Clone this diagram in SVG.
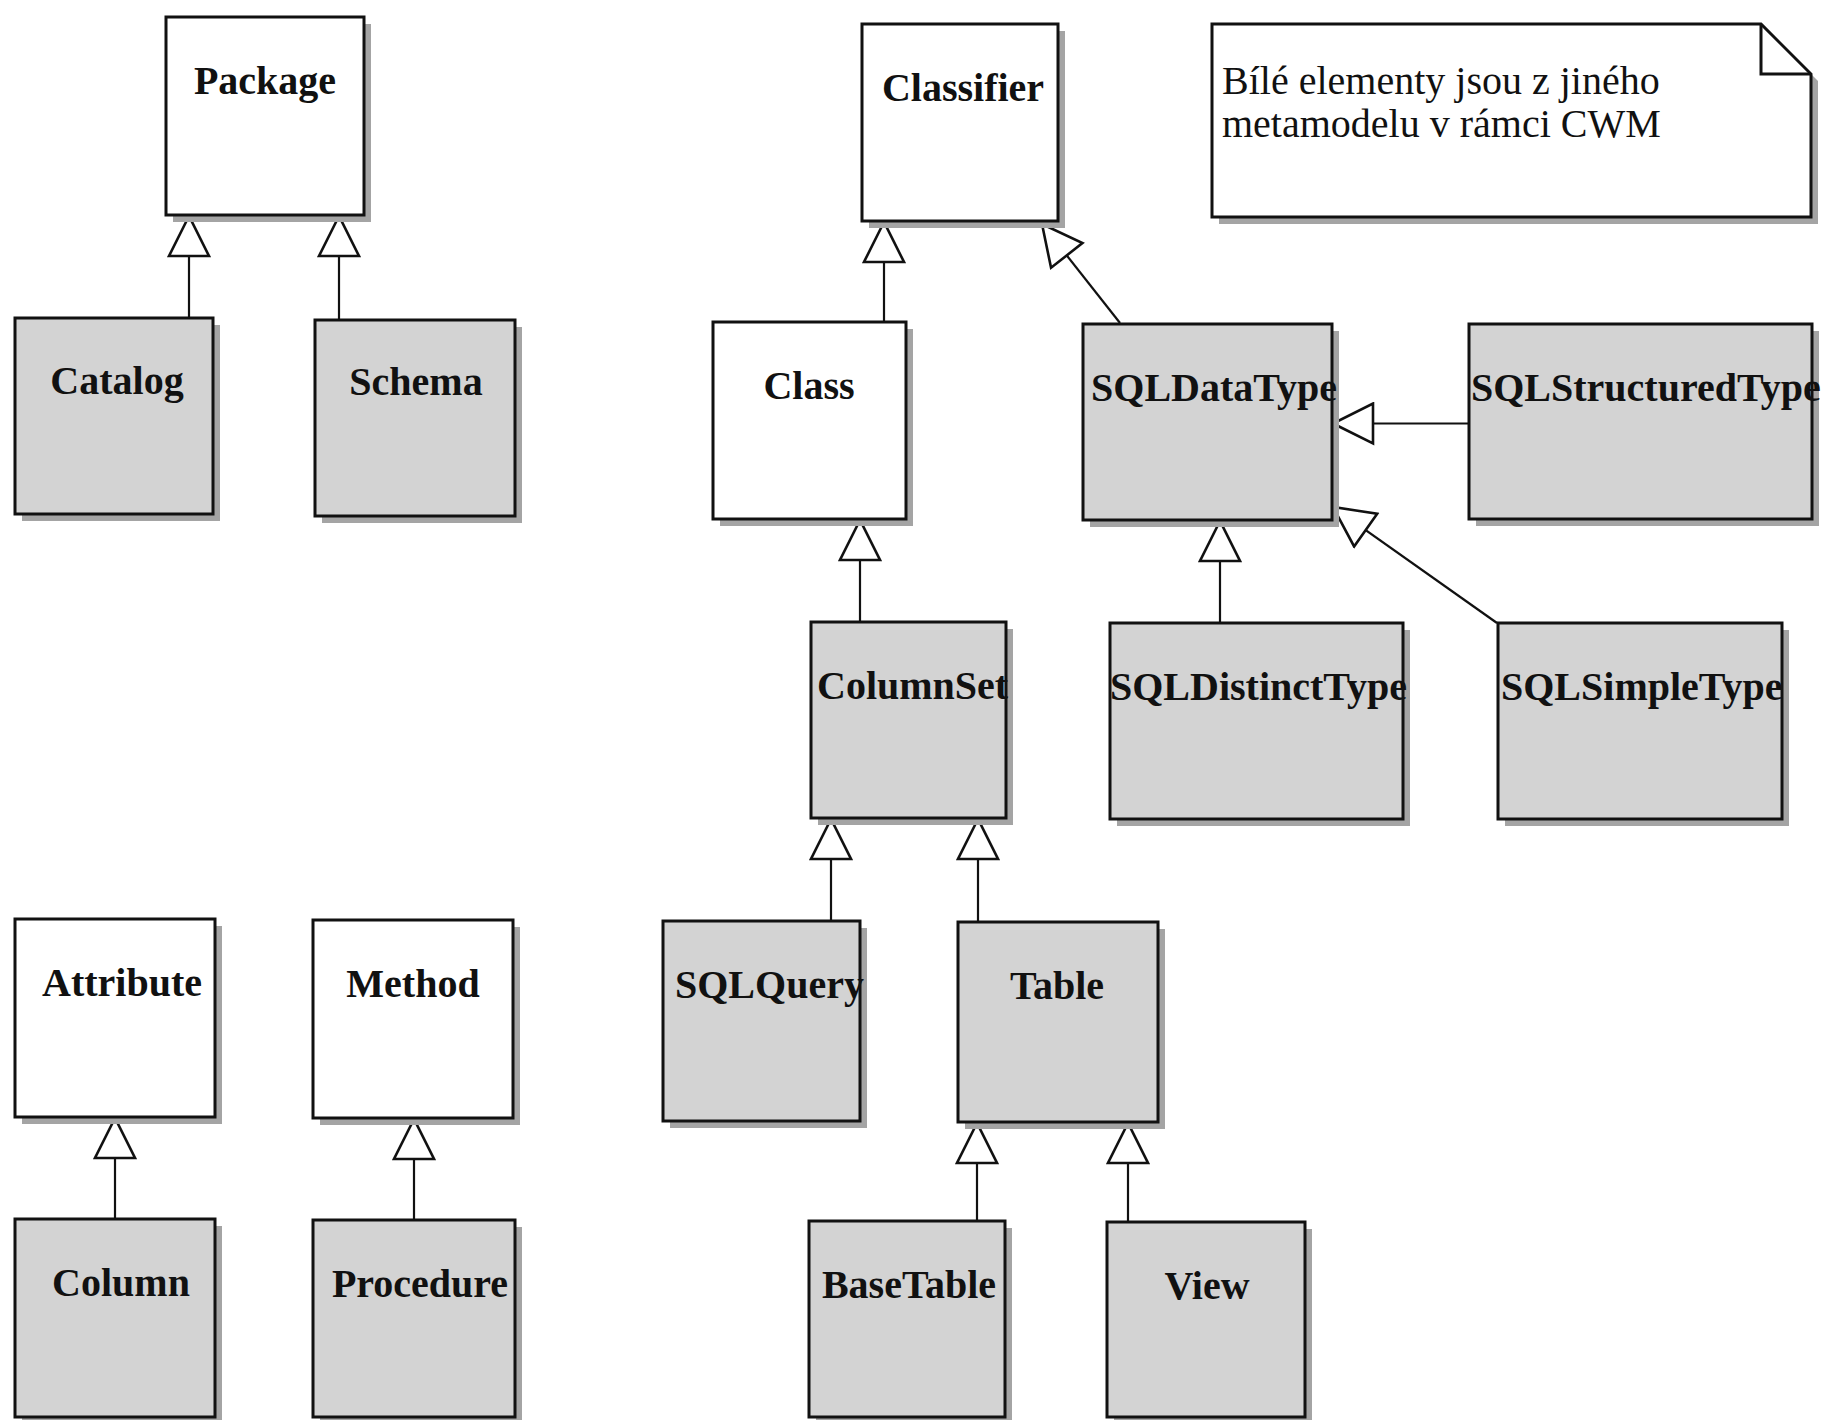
<svg xmlns="http://www.w3.org/2000/svg" width="1833" height="1420" viewBox="0 0 1833 1420">
<style>
.sh{fill:#a4a4a4}
.box{stroke:#111;stroke-width:3}
.w{fill:#fff}
.g{fill:#d3d3d3}
.t{font-family:"Liberation Serif","Times New Roman",serif;font-weight:bold;font-size:40px;fill:#111}
.n{font-family:"Liberation Serif","Times New Roman",serif;font-size:40px;fill:#111}
.c{text-anchor:middle}
.conn{stroke:#111;stroke-width:2.2;fill:none;marker-end:url(#gen)}
</style>
<defs>
<marker id="gen" markerUnits="userSpaceOnUse" viewBox="0 0 46 44" markerWidth="46" markerHeight="44" refX="43" refY="22" orient="auto">
<path d="M43 22 L3 2 L3 42 Z" fill="#fff" stroke="#111" stroke-width="2.6" stroke-linejoin="miter"/>
</marker>
</defs>
<rect width="1833" height="1420" fill="#fff"/>

<g id="connectors">
<line class="conn" x1="189" y1="318" x2="189" y2="216"/>
<line class="conn" x1="339" y1="320" x2="339" y2="216"/>
<line class="conn" x1="884" y1="322" x2="884" y2="222"/>
<line class="conn" x1="1120" y1="323" x2="1042" y2="224"/>
<line class="conn" x1="1469" y1="423.5" x2="1333" y2="423.5"/>
<line class="conn" x1="860" y1="622" x2="860" y2="520"/>
<line class="conn" x1="1220" y1="623" x2="1220" y2="521"/>
<line class="conn" x1="1497" y1="623" x2="1333" y2="507"/>
<line class="conn" x1="831" y1="921" x2="831" y2="819"/>
<line class="conn" x1="978" y1="922" x2="978" y2="819"/>
<line class="conn" x1="977" y1="1221" x2="977" y2="1123"/>
<line class="conn" x1="1128" y1="1222" x2="1128" y2="1123"/>
<line class="conn" x1="115" y1="1219" x2="115" y2="1118"/>
<line class="conn" x1="414" y1="1220" x2="414" y2="1119"/>
</g>

<g id="Package">
<rect class="sh" x="173" y="24" width="198" height="198"/>
<rect class="box w" x="166" y="17" width="198" height="198"/>
<text class="t c" x="265" y="94">Package</text>
</g>
<g id="Catalog">
<rect class="sh" x="22" y="325" width="198" height="196"/>
<rect class="box g" x="15" y="318" width="198" height="196"/>
<text class="t c" x="117" y="394">Catalog</text>
</g>
<g id="Schema">
<rect class="sh" x="322" y="327" width="200" height="196"/>
<rect class="box g" x="315" y="320" width="200" height="196"/>
<text class="t c" x="416" y="395">Schema</text>
</g>

<g id="Classifier">
<rect class="sh" x="869" y="31" width="196" height="197"/>
<rect class="box w" x="862" y="24" width="196" height="197"/>
<text class="t c" x="963" y="101">Classifier</text>
</g>
<g id="Note">
<path class="sh" d="M1219 31 H1768 L1818 81 V224 H1219 Z"/>
<path class="box w" d="M1212 24 H1761 L1811 74 V217 H1212 Z"/>
<path d="M1761 24 V74 H1811" fill="none" stroke="#111" stroke-width="3"/>
<text class="n" x="1222" y="94">Bílé elementy jsou z jiného</text>
<text class="n" x="1222" y="137">metamodelu v rámci CWM</text>
</g>
<g id="Class">
<rect class="sh" x="720" y="329" width="193" height="197"/>
<rect class="box w" x="713" y="322" width="193" height="197"/>
<text class="t c" x="809" y="399">Class</text>
</g>
<g id="SQLDataType">
<rect class="sh" x="1090" y="331" width="249" height="196"/>
<rect class="box g" x="1083" y="324" width="249" height="196"/>
<text class="t c" x="1214" y="401">SQLDataType</text>
</g>
<g id="SQLStructuredType">
<rect class="sh" x="1476" y="331" width="343" height="195"/>
<rect class="box g" x="1469" y="324" width="343" height="195"/>
<text class="t" x="1471" y="401">SQLStructuredType</text>
</g>
<g id="ColumnSet">
<rect class="sh" x="818" y="629" width="195" height="196"/>
<rect class="box g" x="811" y="622" width="195" height="196"/>
<text class="t" x="817" y="699">ColumnSet</text>
</g>
<g id="SQLDistinctType">
<rect class="sh" x="1117" y="630" width="293" height="196"/>
<rect class="box g" x="1110" y="623" width="293" height="196"/>
<text class="t" x="1110" y="700">SQLDistinctType</text>
</g>
<g id="SQLSimpleType">
<rect class="sh" x="1505" y="630" width="284" height="196"/>
<rect class="box g" x="1498" y="623" width="284" height="196"/>
<text class="t" x="1501" y="700">SQLSimpleType</text>
</g>

<g id="SQLQuery">
<rect class="sh" x="670" y="928" width="197" height="200"/>
<rect class="box g" x="663" y="921" width="197" height="200"/>
<text class="t" x="675" y="998">SQLQuery</text>
</g>
<g id="Table">
<rect class="sh" x="965" y="929" width="200" height="200"/>
<rect class="box g" x="958" y="922" width="200" height="200"/>
<text class="t c" x="1057" y="999">Table</text>
</g>
<g id="BaseTable">
<rect class="sh" x="816" y="1228" width="196" height="196"/>
<rect class="box g" x="809" y="1221" width="196" height="196"/>
<text class="t c" x="909" y="1298">BaseTable</text>
</g>
<g id="View">
<rect class="sh" x="1114" y="1229" width="198" height="195"/>
<rect class="box g" x="1107" y="1222" width="198" height="195"/>
<text class="t c" x="1207" y="1299">View</text>
</g>

<g id="Attribute">
<rect class="sh" x="22" y="926" width="200" height="198"/>
<rect class="box w" x="15" y="919" width="200" height="198"/>
<text class="t c" x="122" y="996">Attribute</text>
</g>
<g id="Method">
<rect class="sh" x="320" y="927" width="200" height="198"/>
<rect class="box w" x="313" y="920" width="200" height="198"/>
<text class="t c" x="413" y="997">Method</text>
</g>
<g id="Column">
<rect class="sh" x="22" y="1226" width="200" height="198"/>
<rect class="box g" x="15" y="1219" width="200" height="198"/>
<text class="t c" x="121" y="1296">Column</text>
</g>
<g id="Procedure">
<rect class="sh" x="320" y="1227" width="202" height="197"/>
<rect class="box g" x="313" y="1220" width="202" height="197"/>
<text class="t c" x="420" y="1297">Procedure</text>
</g>
</svg>
